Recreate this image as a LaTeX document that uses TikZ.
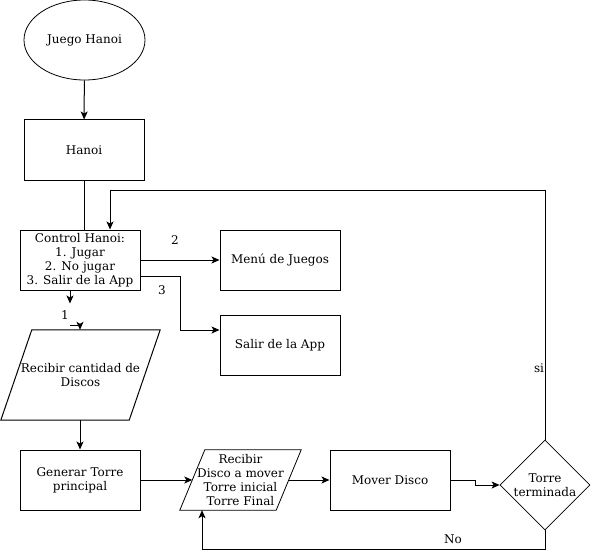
\documentclass[tikz,border=0pt]{standalone}
\usepackage{fontspec}
\setmainfont{DejaVu Serif}
\usetikzlibrary{shapes.geometric, arrows.meta}

\begin{document}
\begin{tikzpicture}[x=1pt, y=-1pt, font=\fontsize{12}{14}\selectfont]
			\tikzset{caja/.style={rectangle, draw=black, line width=1pt, minimum width=120pt, minimum height=60pt, align=center, inner sep=0pt},
				dato/.style={rectangle, align=center, inner sep=0pt},
				decision/.style={diamond, draw=black, line width=0.8pt, aspect=1, minimum width=90pt, minimum height=90pt, align=center, inner sep=0pt},
				etiqueta/.style={inner sep=0pt},
				flecha/.style={>={Stealth[length=8pt, width=7pt, inset=2pt]}, ->, line width=1pt}};

			\useasboundingbox (0,0) rectangle (591,559);

			\node[ellipse, draw=black, line width=0.8pt, minimum width=121pt, minimum height=80pt, inner sep=0pt] (juego) at (84.5, 40) {Juego Hanoi};
			\node[caja] (hanoi)   at ( 84, 150) {Hanoi};
			\node[caja] (control) at ( 80, 260) {Control Hanoi:\\1. Jugar\\2. No jugar\\3. Salir de la App};
			\node[caja] (menu)    at (280, 260) {Menú de Juegos};
			\node[caja] (salir)   at (280, 345) {Salir de la App};
			\node[dato, minimum width=128pt, minimum height=90pt] (cantidad) at (80.5, 375) {Recibir cantidad de\\Discos};
			\node[caja] (generar) at ( 80, 480) {Generar Torre\\principal};
			\node[dato, minimum width=96pt, minimum height=60pt] (recibir) at (240.5, 480) {Recibir\\Disco a mover\\Torre inicial\\Torre Final};
			\node[caja] (mover)   at (390, 480) {Mover Disco};
			\node[decision] (terminada) at (545, 485) {Torre\\terminada};

			% paralelogramos
			\draw[line width=1pt] ([xshift=15.5pt]cantidad.north west) -- ([xshift=15.5pt]cantidad.north east) -- ([xshift=-15.5pt]cantidad.south east) -- ([xshift=-15.5pt]cantidad.south west) -- cycle;
			\draw[line width=0.8pt] ([xshift=12.5pt]recibir.north west) -- ([xshift=12.5pt]recibir.north east) -- ([xshift=-12.5pt]recibir.south east) -- ([xshift=-12.5pt]recibir.south west) -- cycle;

			\node[etiqueta] (l2) at (175, 240) {2};
			\node[etiqueta] (l3) at (162, 290) {3};
			\node[etiqueta] (l1) at ( 65, 315) {1};
			\node[etiqueta] (lsi) at (539, 368) {si};
			\node[etiqueta] (lno) at (453, 539) {No};

			\coordinate (codo) at (110, 190);
			\coordinate (uno) at (70, 325);

			\draw[flecha] (juego) to (hanoi);
			\draw[line width=1pt] (hanoi.south) to (hanoi.south |- control.north);
			\draw[flecha] (terminada.north) |- (codo) -- (codo |- control.north);
			\draw[flecha] (control.east) to (menu.west);
			\draw[flecha] ([yshift=14pt]control.south east) -- ++(40,0) |- ([yshift=15pt]salir.west);
			\draw[flecha] ([xshift=-10pt]control.south) -- ++(0,13);
			\draw[flecha] (uno) -| (generar.north |- cantidad.north);
			\draw[flecha] (generar.north |- cantidad.south) to (generar.north);
			\draw[flecha] (generar.east) to (recibir.west);
			\draw[flecha] (recibir.east) to (mover.west);
			\draw[flecha] (mover.east) -- ++(25,0) |- (terminada.west);
			\draw[flecha] (terminada.south) -- ++(0,19) -| ([xshift=-38.5pt]recibir.south);

		\end{tikzpicture}
\end{document}
